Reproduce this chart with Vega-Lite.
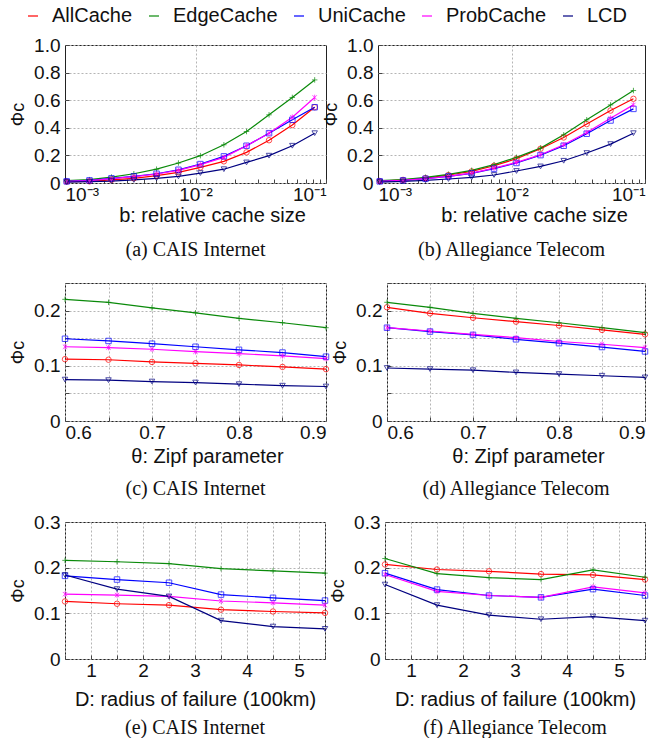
{
"$schema": "https://vega.github.io/schema/vega-lite/v6.json",
"background": "white",
"padding": {"left": 9, "top": 6, "right": 5, "bottom": 5},
"spacing": 12,
"datasets": {
"a": [
{"s":"AllCache","x":0.00103,"y":0.010},{"s":"AllCache","x":0.00154,"y":0.012},{"s":"AllCache","x":0.00227,"y":0.022},{"s":"AllCache","x":0.00337,"y":0.034},{"s":"AllCache","x":0.00503,"y":0.053},{"s":"AllCache","x":0.0074,"y":0.077},{"s":"AllCache","x":0.0109,"y":0.113},{"s":"AllCache","x":0.0165,"y":0.157},{"s":"AllCache","x":0.0246,"y":0.222},{"s":"AllCache","x":0.0366,"y":0.31},{"s":"AllCache","x":0.0552,"y":0.42},{"s":"AllCache","x":0.0819,"y":0.549},
{"s":"EdgeCache","x":0.00103,"y":0.017},{"s":"EdgeCache","x":0.00154,"y":0.024},{"s":"EdgeCache","x":0.00227,"y":0.043},{"s":"EdgeCache","x":0.00337,"y":0.067},{"s":"EdgeCache","x":0.00503,"y":0.10},{"s":"EdgeCache","x":0.0074,"y":0.145},{"s":"EdgeCache","x":0.0109,"y":0.198},{"s":"EdgeCache","x":0.0165,"y":0.277},{"s":"EdgeCache","x":0.0246,"y":0.373},{"s":"EdgeCache","x":0.0366,"y":0.494},{"s":"EdgeCache","x":0.0552,"y":0.62},{"s":"EdgeCache","x":0.0819,"y":0.747},
{"s":"UniCache","x":0.00103,"y":0.012},{"s":"UniCache","x":0.00154,"y":0.019},{"s":"UniCache","x":0.00227,"y":0.034},{"s":"UniCache","x":0.00337,"y":0.048},{"s":"UniCache","x":0.00503,"y":0.067},{"s":"UniCache","x":0.0074,"y":0.096},{"s":"UniCache","x":0.0109,"y":0.137},{"s":"UniCache","x":0.0165,"y":0.193},{"s":"UniCache","x":0.0246,"y":0.27},{"s":"UniCache","x":0.0366,"y":0.361},{"s":"UniCache","x":0.0552,"y":0.458},{"s":"UniCache","x":0.0819,"y":0.549},
{"s":"ProbCache","x":0.00103,"y":0.012},{"s":"ProbCache","x":0.00154,"y":0.017},{"s":"ProbCache","x":0.00227,"y":0.031},{"s":"ProbCache","x":0.00337,"y":0.046},{"s":"ProbCache","x":0.00503,"y":0.065},{"s":"ProbCache","x":0.0074,"y":0.092},{"s":"ProbCache","x":0.0109,"y":0.133},{"s":"ProbCache","x":0.0165,"y":0.186},{"s":"ProbCache","x":0.0246,"y":0.27},{"s":"ProbCache","x":0.0366,"y":0.361},{"s":"ProbCache","x":0.0552,"y":0.477},{"s":"ProbCache","x":0.0819,"y":0.62},
{"s":"LCD","x":0.00103,"y":0.007},{"s":"LCD","x":0.00154,"y":0.010},{"s":"LCD","x":0.00227,"y":0.014},{"s":"LCD","x":0.00337,"y":0.022},{"s":"LCD","x":0.00503,"y":0.034},{"s":"LCD","x":0.0074,"y":0.048},{"s":"LCD","x":0.0109,"y":0.072},{"s":"LCD","x":0.0165,"y":0.10},{"s":"LCD","x":0.0246,"y":0.149},{"s":"LCD","x":0.0366,"y":0.198},{"s":"LCD","x":0.0552,"y":0.27},{"s":"LCD","x":0.0819,"y":0.361}
],
"b": [
{"s":"AllCache","x":0.00103,"y":0.014},{"s":"AllCache","x":0.00154,"y":0.022},{"s":"AllCache","x":0.00227,"y":0.036},{"s":"AllCache","x":0.00337,"y":0.058},{"s":"AllCache","x":0.00503,"y":0.084},{"s":"AllCache","x":0.0074,"y":0.125},{"s":"AllCache","x":0.0109,"y":0.176},{"s":"AllCache","x":0.0165,"y":0.248},{"s":"AllCache","x":0.0246,"y":0.33},{"s":"AllCache","x":0.0366,"y":0.427},{"s":"AllCache","x":0.0552,"y":0.525},{"s":"AllCache","x":0.0819,"y":0.61},
{"s":"EdgeCache","x":0.00103,"y":0.017},{"s":"EdgeCache","x":0.00154,"y":0.024},{"s":"EdgeCache","x":0.00227,"y":0.041},{"s":"EdgeCache","x":0.00337,"y":0.063},{"s":"EdgeCache","x":0.00503,"y":0.092},{"s":"EdgeCache","x":0.0074,"y":0.133},{"s":"EdgeCache","x":0.0109,"y":0.186},{"s":"EdgeCache","x":0.0165,"y":0.253},{"s":"EdgeCache","x":0.0246,"y":0.349},{"s":"EdgeCache","x":0.0366,"y":0.458},{"s":"EdgeCache","x":0.0552,"y":0.566},{"s":"EdgeCache","x":0.0819,"y":0.67},
{"s":"UniCache","x":0.00103,"y":0.012},{"s":"UniCache","x":0.00154,"y":0.019},{"s":"UniCache","x":0.00227,"y":0.031},{"s":"UniCache","x":0.00337,"y":0.048},{"s":"UniCache","x":0.00503,"y":0.07},{"s":"UniCache","x":0.0074,"y":0.104},{"s":"UniCache","x":0.0109,"y":0.145},{"s":"UniCache","x":0.0165,"y":0.202},{"s":"UniCache","x":0.0246,"y":0.27},{"s":"UniCache","x":0.0366,"y":0.357},{"s":"UniCache","x":0.0552,"y":0.453},{"s":"UniCache","x":0.0819,"y":0.537},
{"s":"ProbCache","x":0.00103,"y":0.012},{"s":"ProbCache","x":0.00154,"y":0.019},{"s":"ProbCache","x":0.00227,"y":0.031},{"s":"ProbCache","x":0.00337,"y":0.048},{"s":"ProbCache","x":0.00503,"y":0.072},{"s":"ProbCache","x":0.0074,"y":0.108},{"s":"ProbCache","x":0.0109,"y":0.149},{"s":"ProbCache","x":0.0165,"y":0.205},{"s":"ProbCache","x":0.0246,"y":0.277},{"s":"ProbCache","x":0.0366,"y":0.366},{"s":"ProbCache","x":0.0552,"y":0.47},{"s":"ProbCache","x":0.0819,"y":0.566},
{"s":"LCD","x":0.00103,"y":0.007},{"s":"LCD","x":0.00154,"y":0.012},{"s":"LCD","x":0.00227,"y":0.019},{"s":"LCD","x":0.00337,"y":0.029},{"s":"LCD","x":0.00503,"y":0.041},{"s":"LCD","x":0.0074,"y":0.058},{"s":"LCD","x":0.0109,"y":0.087},{"s":"LCD","x":0.0165,"y":0.12},{"s":"LCD","x":0.0246,"y":0.161},{"s":"LCD","x":0.0366,"y":0.217},{"s":"LCD","x":0.0552,"y":0.282},{"s":"LCD","x":0.0819,"y":0.361}
],
"c": [
{"s":"AllCache","x":0.6,"y":0.112},{"s":"AllCache","x":0.65,"y":0.111},{"s":"AllCache","x":0.7,"y":0.107},{"s":"AllCache","x":0.75,"y":0.1045},{"s":"AllCache","x":0.8,"y":0.1015},{"s":"AllCache","x":0.85,"y":0.098},{"s":"AllCache","x":0.9,"y":0.094},
{"s":"EdgeCache","x":0.6,"y":0.2204},{"s":"EdgeCache","x":0.65,"y":0.215},{"s":"EdgeCache","x":0.7,"y":0.205},{"s":"EdgeCache","x":0.75,"y":0.196},{"s":"EdgeCache","x":0.8,"y":0.186},{"s":"EdgeCache","x":0.85,"y":0.178},{"s":"EdgeCache","x":0.9,"y":0.169},
{"s":"UniCache","x":0.6,"y":0.149},{"s":"UniCache","x":0.65,"y":0.145},{"s":"UniCache","x":0.7,"y":0.14},{"s":"UniCache","x":0.75,"y":0.1345},{"s":"UniCache","x":0.8,"y":0.129},{"s":"UniCache","x":0.85,"y":0.124},{"s":"UniCache","x":0.9,"y":0.1165},
{"s":"ProbCache","x":0.6,"y":0.1345},{"s":"ProbCache","x":0.65,"y":0.133},{"s":"ProbCache","x":0.7,"y":0.13},{"s":"ProbCache","x":0.75,"y":0.1255},{"s":"ProbCache","x":0.8,"y":0.122},{"s":"ProbCache","x":0.85,"y":0.118},{"s":"ProbCache","x":0.9,"y":0.113},
{"s":"LCD","x":0.6,"y":0.075},{"s":"LCD","x":0.65,"y":0.074},{"s":"LCD","x":0.7,"y":0.0715},{"s":"LCD","x":0.75,"y":0.0697},{"s":"LCD","x":0.8,"y":0.0667},{"s":"LCD","x":0.85,"y":0.064},{"s":"LCD","x":0.9,"y":0.0625}
],
"d": [
{"s":"AllCache","x":0.6,"y":0.206},{"s":"AllCache","x":0.65,"y":0.195},{"s":"AllCache","x":0.7,"y":0.187},{"s":"AllCache","x":0.75,"y":0.18},{"s":"AllCache","x":0.8,"y":0.173},{"s":"AllCache","x":0.85,"y":0.165},{"s":"AllCache","x":0.9,"y":0.157},
{"s":"EdgeCache","x":0.6,"y":0.215},{"s":"EdgeCache","x":0.65,"y":0.206},{"s":"EdgeCache","x":0.7,"y":0.195},{"s":"EdgeCache","x":0.75,"y":0.186},{"s":"EdgeCache","x":0.8,"y":0.178},{"s":"EdgeCache","x":0.85,"y":0.169},{"s":"EdgeCache","x":0.9,"y":0.16},
{"s":"UniCache","x":0.6,"y":0.169},{"s":"UniCache","x":0.65,"y":0.162},{"s":"UniCache","x":0.7,"y":0.156},{"s":"UniCache","x":0.75,"y":0.148},{"s":"UniCache","x":0.8,"y":0.141},{"s":"UniCache","x":0.85,"y":0.134},{"s":"UniCache","x":0.9,"y":0.126},
{"s":"ProbCache","x":0.6,"y":0.169},{"s":"ProbCache","x":0.65,"y":0.163},{"s":"ProbCache","x":0.7,"y":0.157},{"s":"ProbCache","x":0.75,"y":0.151},{"s":"ProbCache","x":0.8,"y":0.144},{"s":"ProbCache","x":0.85,"y":0.139},{"s":"ProbCache","x":0.9,"y":0.133},
{"s":"LCD","x":0.6,"y":0.096},{"s":"LCD","x":0.65,"y":0.094},{"s":"LCD","x":0.7,"y":0.092},{"s":"LCD","x":0.75,"y":0.088},{"s":"LCD","x":0.8,"y":0.085},{"s":"LCD","x":0.85,"y":0.082},{"s":"LCD","x":0.9,"y":0.079}
],
"e": [
{"s":"AllCache","x":0.5,"y":0.126},{"s":"AllCache","x":1.5,"y":0.121},{"s":"AllCache","x":2.5,"y":0.118},{"s":"AllCache","x":3.5,"y":0.108},{"s":"AllCache","x":4.5,"y":0.104},{"s":"AllCache","x":5.5,"y":0.101},
{"s":"EdgeCache","x":0.5,"y":0.216},{"s":"EdgeCache","x":1.5,"y":0.213},{"s":"EdgeCache","x":2.5,"y":0.209},{"s":"EdgeCache","x":3.5,"y":0.198},{"s":"EdgeCache","x":4.5,"y":0.193},{"s":"EdgeCache","x":5.5,"y":0.188},
{"s":"UniCache","x":0.5,"y":0.182},{"s":"UniCache","x":1.5,"y":0.174},{"s":"UniCache","x":2.5,"y":0.167},{"s":"UniCache","x":3.5,"y":0.141},{"s":"UniCache","x":4.5,"y":0.134},{"s":"UniCache","x":5.5,"y":0.128},
{"s":"ProbCache","x":0.5,"y":0.142},{"s":"ProbCache","x":1.5,"y":0.14},{"s":"ProbCache","x":2.5,"y":0.137},{"s":"ProbCache","x":3.5,"y":0.127},{"s":"ProbCache","x":4.5,"y":0.123},{"s":"ProbCache","x":5.5,"y":0.118},
{"s":"LCD","x":0.5,"y":0.184},{"s":"LCD","x":1.5,"y":0.153},{"s":"LCD","x":2.5,"y":0.137},{"s":"LCD","x":3.5,"y":0.084},{"s":"LCD","x":4.5,"y":0.071},{"s":"LCD","x":5.5,"y":0.066}
],
"f": [
{"s":"AllCache","x":0.5,"y":0.207},{"s":"AllCache","x":1.5,"y":0.196},{"s":"AllCache","x":2.5,"y":0.192},{"s":"AllCache","x":3.5,"y":0.186},{"s":"AllCache","x":4.5,"y":0.184},{"s":"AllCache","x":5.5,"y":0.174},
{"s":"EdgeCache","x":0.5,"y":0.22},{"s":"EdgeCache","x":1.5,"y":0.187},{"s":"EdgeCache","x":2.5,"y":0.178},{"s":"EdgeCache","x":3.5,"y":0.174},{"s":"EdgeCache","x":4.5,"y":0.195},{"s":"EdgeCache","x":5.5,"y":0.179},
{"s":"UniCache","x":0.5,"y":0.188},{"s":"UniCache","x":1.5,"y":0.152},{"s":"UniCache","x":2.5,"y":0.139},{"s":"UniCache","x":3.5,"y":0.135},{"s":"UniCache","x":4.5,"y":0.153},{"s":"UniCache","x":5.5,"y":0.139},
{"s":"ProbCache","x":0.5,"y":0.185},{"s":"ProbCache","x":1.5,"y":0.148},{"s":"ProbCache","x":2.5,"y":0.139},{"s":"ProbCache","x":3.5,"y":0.135},{"s":"ProbCache","x":4.5,"y":0.158},{"s":"ProbCache","x":5.5,"y":0.145},
{"s":"LCD","x":0.5,"y":0.163},{"s":"LCD","x":1.5,"y":0.118},{"s":"LCD","x":2.5,"y":0.096},{"s":"LCD","x":3.5,"y":0.087},{"s":"LCD","x":4.5,"y":0.093},{"s":"LCD","x":5.5,"y":0.084}
]
},
"config": {
"view": {"stroke": "#222", "strokeWidth": 1},
"axis": {"labelFont": "Liberation Sans", "labelFontSize": 19, "labelColor": "#111", "titleFont": "Liberation Sans", "titleFontSize": 20, "titleFontWeight": "normal", "titleColor": "#111", "domain": false, "grid": true, "gridColor": "#b5b5b5", "gridDash": [2, 2], "gridWidth": 1, "tickColor": "#444", "tickSize": -4, "labelOverlap": false},
"axisX": {"labelPadding": 6, "titlePadding": 1},
"axisY": {"labelPadding": 9, "titlePadding": 6, "titleFontSize": 18},
"title": {"font": "Liberation Serif", "fontSize": 20, "fontWeight": "normal", "color": "#111"},
"legend": {"orient": "none", "legendX": -42, "legendY": -39, "direction": "horizontal", "labelFont": "Liberation Sans", "labelFontSize": 20, "labelColor": "#111", "labelOffset": 9, "columnPadding": 11, "gridAlign": "none", "padding": 0},
"line": {"strokeWidth": 1.2},
"point": {"filled": false, "size": 30, "strokeWidth": 1}
},
"vconcat": [
{"hconcat": [
{"data": {"name": "a"}, "width": 261, "height": 138,
 "title": {"text": "(a) CAIS  Internet", "orient": "bottom", "offset": 15},
 "encoding": {
  "x": {"field": "x", "type": "quantitative", "scale": {"type": "log", "domain": [0.001, 0.1]}, "axis": {"title": "b: relative cache size", "titleX": 147, "values": [0.001,0.002,0.003,0.004,0.005,0.006,0.007,0.008,0.009,0.01,0.02,0.03,0.04,0.05,0.06,0.07,0.08,0.09,0.1], "labelExpr": "datum.value==0.001?'10⁻³':datum.value==0.01?'10⁻²':datum.value==0.1?'10⁻¹':''", "gridOpacity": {"condition": {"test": "datum.value==0.01", "value": 1}, "value": 0}}},
  "y": {"field": "y", "type": "quantitative", "scale": {"domain": [0, 1]}, "axis": {"title": "Φc", "values": [0, 0.2, 0.4, 0.6, 0.8, 1], "labelExpr": "datum.value==0?'0':format(datum.value,'.1f')"}}
 },
 "layer": [
  {"mark": "line", "encoding": {"color": {"field": "s", "type": "nominal", "scale": {"domain": ["AllCache","EdgeCache","UniCache","ProbCache","LCD"], "range": ["#ff0000","#0a8a0a","#0000ff","#ff00ff","#000080"]},
   "legend": {"title": null, "encode": {"symbols": {"shape": {"value": {"expr": "datum.value=='AllCache'?'M-1,0L1,0M-0.22,0A0.22,0.22,0,1,1,0.22,0A0.22,0.22,0,1,1,-0.22,0':datum.value=='EdgeCache'?'M-1,0L1,0M0,-0.3L0,0.3':datum.value=='UniCache'?'M-1,0L1,0M-0.3,-0.22H0.3V0.22H-0.3Z':datum.value=='ProbCache'?'M-1,0L1,0M-0.25,-0.25L0.25,0.25M-0.25,0.25L0.25,-0.25M0,-0.3L0,0.3':'M-1,0L1,0M-0.3,-0.22L0.3,-0.22L0,0.28Z'"}}, "size": {"value": 324}, "strokeWidth": {"value": 1.4}, "fill": {"value": "transparent"}}}}}}},
  {"mark": "point", "encoding": {"color": {"field": "s", "type": "nominal", "legend": null}, "shape": {"field": "s", "type": "nominal", "scale": {"domain": ["LCD","ProbCache","UniCache","EdgeCache","AllCache"], "range": ["triangle-down","M-0.8,-0.8L0.8,0.8M-0.8,0.8L0.8,-0.8M0,-1L0,1","square","M-1,0L1,0M0,-1L0,1","circle"]}, "legend": null}}}
 ]
},
{"data": {"name": "b"}, "width": 267, "height": 138,
 "title": {"text": "(b) Allegiance  Telecom", "orient": "bottom", "offset": 15},
 "encoding": {
  "x": {"field": "x", "type": "quantitative", "scale": {"type": "log", "domain": [0.001, 0.1]}, "axis": {"title": "b: relative cache size", "titleX": 156, "values": [0.001,0.002,0.003,0.004,0.005,0.006,0.007,0.008,0.009,0.01,0.02,0.03,0.04,0.05,0.06,0.07,0.08,0.09,0.1], "labelExpr": "datum.value==0.001?'10⁻³':datum.value==0.01?'10⁻²':datum.value==0.1?'10⁻¹':''", "gridOpacity": {"condition": {"test": "datum.value==0.01", "value": 1}, "value": 0}}},
  "y": {"field": "y", "type": "quantitative", "scale": {"domain": [0, 1]}, "axis": {"title": "Φc", "values": [0, 0.2, 0.4, 0.6, 0.8, 1], "labelExpr": "datum.value==0?'0':format(datum.value,'.1f')"}},
  "color": {"field": "s", "type": "nominal", "legend": null}
 },
 "layer": [
  {"mark": "line"},
  {"mark": "point", "encoding": {"shape": {"field": "s", "type": "nominal", "legend": null}}}
 ]
}
], "spacing": 52, "bounds": "flush"},
{"hconcat": [
{"data": {"name": "c"}, "width": 261, "height": 138,
 "title": {"text": "(c) CAIS  Internet", "orient": "bottom", "offset": 13},
 "encoding": {
  "x": {"field": "x", "type": "quantitative", "scale": {"domain": [0.6, 0.9]}, "axis": {"title": "θ: Zipf parameter", "titleX": 142, "titlePadding": 4, "values": [0.6,0.65,0.7,0.75,0.8,0.85,0.9], "labelExpr": "round(datum.value*100)%10==0?format(datum.value,'.1f'):''"}},
  "y": {"field": "y", "type": "quantitative", "scale": {"domain": [0, 0.25]}, "axis": {"title": "Φc", "values": [0, 0.05, 0.1, 0.15, 0.2, 0.25], "labelExpr": "datum.value==0?'0':round(datum.value*100)%10==0?format(datum.value,'.1f'):''"}},
  "color": {"field": "s", "type": "nominal", "legend": null}
 },
 "layer": [
  {"mark": "line"},
  {"mark": "point", "encoding": {"shape": {"field": "s", "type": "nominal", "legend": null}}}
 ]
},
{"data": {"name": "d"}, "width": 258, "height": 138,
 "title": {"text": "(d) Allegiance  Telecom", "orient": "bottom", "offset": 13},
 "encoding": {
  "x": {"field": "x", "type": "quantitative", "scale": {"domain": [0.6, 0.9]}, "axis": {"title": "θ: Zipf parameter", "titleX": 141, "titlePadding": 4, "values": [0.6,0.65,0.7,0.75,0.8,0.85,0.9], "labelExpr": "round(datum.value*100)%10==0?format(datum.value,'.1f'):''"}},
  "y": {"field": "y", "type": "quantitative", "scale": {"domain": [0, 0.25]}, "axis": {"title": "Φc", "values": [0, 0.05, 0.1, 0.15, 0.2, 0.25], "labelExpr": "datum.value==0?'0':round(datum.value*100)%10==0?format(datum.value,'.1f'):''"}},
  "color": {"field": "s", "type": "nominal", "legend": null}
 },
 "layer": [
  {"mark": "line"},
  {"mark": "point", "encoding": {"shape": {"field": "s", "type": "nominal", "legend": null}}}
 ]
}
], "spacing": 61, "bounds": "flush"},
{"hconcat": [
{"data": {"name": "e"}, "width": 260, "height": 137,
 "title": {"text": "(e) CAIS  Internet", "orient": "bottom", "offset": 9},
 "encoding": {
  "x": {"field": "x", "type": "quantitative", "scale": {"domain": [0.5, 5.5]}, "axis": {"title": "D: radius of failure (100km)", "titlePadding": 9, "values": [0.5,1,1.5,2,2.5,3,3.5,4,4.5,5,5.5], "labelExpr": "datum.value%1==0?format(datum.value,'d'):''"}},
  "y": {"field": "y", "type": "quantitative", "scale": {"domain": [0, 0.3]}, "axis": {"title": "Φc", "values": [0, 0.1, 0.2, 0.3], "labelExpr": "datum.value==0?'0':format(datum.value,'.1f')"}},
  "color": {"field": "s", "type": "nominal", "legend": null}
 },
 "layer": [
  {"mark": "line"},
  {"mark": "point", "encoding": {"shape": {"field": "s", "type": "nominal", "legend": null}}}
 ]
},
{"data": {"name": "f"}, "width": 260, "height": 137,
 "title": {"text": "(f) Allegiance  Telecom", "orient": "bottom", "offset": 9},
 "encoding": {
  "x": {"field": "x", "type": "quantitative", "scale": {"domain": [0.5, 5.5]}, "axis": {"title": "D: radius of failure (100km)", "titlePadding": 9, "values": [0.5,1,1.5,2,2.5,3,3.5,4,4.5,5,5.5], "labelExpr": "datum.value%1==0?format(datum.value,'d'):''"}},
  "y": {"field": "y", "type": "quantitative", "scale": {"domain": [0, 0.3]}, "axis": {"title": "Φc", "values": [0, 0.1, 0.2, 0.3], "labelExpr": "datum.value==0?'0':format(datum.value,'.1f')"}},
  "color": {"field": "s", "type": "nominal", "legend": null}
 },
 "layer": [
  {"mark": "line"},
  {"mark": "point", "encoding": {"shape": {"field": "s", "type": "nominal", "legend": null}}}
 ]
}
], "spacing": 60, "bounds": "flush"}
]
}
